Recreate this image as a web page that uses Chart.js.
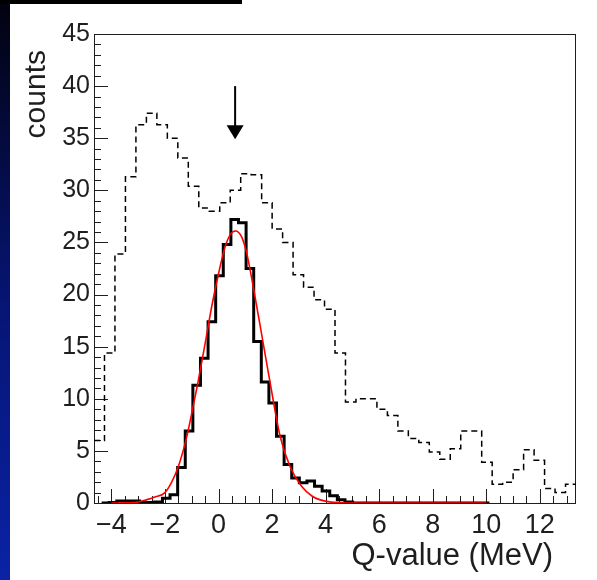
<!DOCTYPE html>
<html>
<head>
<meta charset="utf-8">
<script src="https://cdn.jsdelivr.net/npm/chart.js@4.4.1/dist/chart.umd.min.js"></script>
<style>
  html, body { margin: 0; padding: 0; background: #fff; }
  #wrap { position: relative; width: 597px; height: 580px; }
  #strip { position: absolute; left: 0; top: 0; width: 10px; height: 580px;
           background: linear-gradient(to bottom, #02020e 0%, #061470 50%, #0a22a6 100%); }
  #bar { position: absolute; left: 0; top: 0; width: 242px; height: 4px; background: #000; }
  canvas { position: absolute; left: 0; top: 0; }
</style>
</head>
<body>
<div id="wrap">
  <canvas id="chart" width="597" height="580"></canvas>
  <div id="strip"></div>
  <div id="bar"></div>
</div>
<script>
// x range of the frame (MeV) and tick labels
const xMin = -4.65, xMax = 13.35;
const xTickValues = [-4, -2, 0, 2, 4, 6, 8, 10, 12];
const yTickValues = [0, 5, 10, 15, 20, 25, 30, 35, 40, 45];

// dashed histogram: all events
const dashedStart = -4.65;
const dashedWidth = 18 / 46;
const dashedCounts = [6.0, 14.4, 23.9, 31.3, 36.3, 37.4, 36.3, 35.0, 33.1, 30.4,
  28.3, 28.0, 28.8, 30.0, 31.6, 31.5, 28.8, 26.3, 25.0, 21.9,
  20.7, 19.5, 18.6, 14.4, 9.7, 10.0, 10.0, 9.0, 8.4, 6.9,
  6.2, 5.8, 4.9, 4.2, 5.2, 6.9, 6.9, 3.9, 1.8, 2.0,
  3.2, 5.1, 4.1, 1.4, 1.0, 1.8];

// solid histogram: gated events
const solidStart = -4.366;
const solidWidth = 0.284;
const solidCounts = [0, 0.05, 0.2, 0.2, 0.2, 0.05, 0.05, 0.1, 0.45, 0.8,
  3.4, 6.9, 11.3, 13.9, 17.4, 21.8, 24.8, 27.2, 26.9, 22.5,
  15.5, 11.6, 9.6, 6.4, 3.7, 2.4, 1.95, 2.1, 1.6, 1.15,
  0.7, 0.3, 0.1, 0, 0, 0, 0, 0, 0, 0,
  0, 0, 0, 0, 0, 0, 0, 0, 0, 0, 0];

// red fit curve
const fitX = [-4.0, -3.5, -3.0, -2.7, -2.4, -2.0, -1.75, -1.5, -1.2, -1.0,
  -0.75, -0.5, -0.25, 0.0, 0.25, 0.45, 0.63, 0.85, 1.05, 1.3,
  1.65, 1.93, 2.3, 2.67, 3.1, 3.5, 3.8, 4.2, 4.8, 6.0, 8.0, 10.0];
const fitY = [0.0, 0.02, 0.1, 0.3, 0.55, 1.0, 2.0, 3.5, 6.2, 8.6,
  11.8, 15.3, 18.9, 22.0, 24.6, 25.8, 26.1, 25.6, 24.0, 20.7,
  15.6, 11.5, 6.4, 3.5, 1.6, 0.65, 0.3, 0.08, 0.0, 0.0, 0.0, 0.0];

// arrow marking the expected peak
const arrowX = 0.62, arrowTop = 40.0, arrowTip = 34.9;

const xTitle = 'Q-value (MeV)';
const yTitle = 'counts';
const FONT = '"Liberation Sans", Arial, sans-serif';
const INK = '#1e1e1e';

function histPoints(start, width, counts) {
  const pts = counts.map((c, i) => ({ x: start + i * width, y: c }));
  pts.push({ x: start + counts.length * width, y: counts[counts.length - 1] });
  return pts;
}

const minus = v => (v < 0 ? '\u2212' + Math.abs(v) : String(v));

const frame = {
  id: 'frame',
  beforeDatasetsDraw(chart) {
    const { ctx, chartArea: a, scales: { x, y } } = chart;
    ctx.save();
    ctx.strokeStyle = INK;
    ctx.lineWidth = 1;
    ctx.strokeRect(a.left + 0.5, a.top + 0.5, a.right - a.left - 1, a.bottom - a.top);
    ctx.beginPath();
    for (let v = 0; v <= 45; v++) {
      const py = Math.round(y.getPixelForValue(v)) + 0.5;
      const len = v % 5 === 0 ? 14 : 7;
      ctx.moveTo(a.left, py);
      ctx.lineTo(a.left + len, py);
    }
    for (let v = -4.5; v <= 13.01; v += 0.5) {
      const px = Math.round(x.getPixelForValue(v)) + 0.5;
      const len = Math.abs(v % 2) < 0.01 ? 14 : 7;
      ctx.moveTo(px, a.bottom);
      ctx.lineTo(px, a.bottom - len);
    }
    ctx.stroke();
    ctx.restore();
  },
  afterDatasetsDraw(chart) {
    const { ctx, scales: { x, y } } = chart;
    ctx.save();
    // arrow
    const ax = x.getPixelForValue(arrowX);
    const yTop = y.getPixelForValue(arrowTop);
    const yTip = y.getPixelForValue(arrowTip);
    ctx.strokeStyle = '#000';
    ctx.fillStyle = '#000';
    ctx.lineWidth = 2;
    ctx.beginPath();
    ctx.moveTo(ax, yTop);
    ctx.lineTo(ax, yTip - 12);
    ctx.stroke();
    ctx.beginPath();
    ctx.moveTo(ax - 8.5, yTip - 14);
    ctx.lineTo(ax + 8.5, yTip - 14);
    ctx.lineTo(ax, yTip);
    ctx.closePath();
    ctx.fill();
    // axis titles
    ctx.fillStyle = INK;
    ctx.font = '31px ' + FONT;
    ctx.textAlign = 'right';
    ctx.textBaseline = 'alphabetic';
    ctx.fillText(xTitle, 553, 565);
    ctx.font = '30px ' + FONT;
    ctx.translate(45, 50);
    ctx.rotate(-Math.PI / 2);
    ctx.fillText(yTitle, 0, 0);
    ctx.restore();
  }
};

new Chart(document.getElementById('chart'), {
  type: 'line',
  data: {
    datasets: [
      {
        label: 'fit',
        data: fitX.map((v, i) => ({ x: v, y: fitY[i] })),
        borderColor: '#ff0000',
        borderWidth: 1.6,
        pointRadius: 0,
        cubicInterpolationMode: 'monotone',
        order: 0
      },
      {
        label: 'gated',
        data: histPoints(solidStart, solidWidth, solidCounts),
        borderColor: '#000',
        borderWidth: 3,
        pointRadius: 0,
        stepped: 'before',
        order: 1
      },
      {
        label: 'all',
        data: histPoints(dashedStart, dashedWidth, dashedCounts),
        borderColor: '#000',
        borderWidth: 1.5,
        borderDash: [6, 4],
        pointRadius: 0,
        stepped: 'before',
        order: 2
      }
    ]
  },
  options: {
    responsive: false,
    animation: false,
    devicePixelRatio: 1,
    layout: { padding: { left: 0, right: 21, top: 34, bottom: 0 } },
    plugins: { legend: { display: false }, tooltip: { enabled: false } },
    scales: {
      x: {
        type: 'linear',
        min: xMin,
        max: xMax,
        grid: { display: false, drawTicks: false },
        border: { display: false },
        afterBuildTicks: s => { s.ticks = xTickValues.map(v => ({ value: v })); },
        afterFit: s => { s.height = 77; },
        ticks: {
          autoSkip: false,
          maxRotation: 0,
          padding: 6,
          color: INK,
          font: { family: FONT, size: 27 },
          callback: v => minus(v)
        }
      },
      y: {
        min: 0,
        max: 45,
        grid: { display: false, drawTicks: false },
        border: { display: false },
        afterBuildTicks: s => { s.ticks = yTickValues.map(v => ({ value: v })); },
        afterFit: s => { s.width = 94; },
        ticks: {
          autoSkip: false,
          padding: 4,
          color: INK,
          font: { family: FONT, size: 25 },
          callback: v => String(v)
        }
      }
    }
  },
  plugins: [frame]
});
</script>
</body>
</html>
